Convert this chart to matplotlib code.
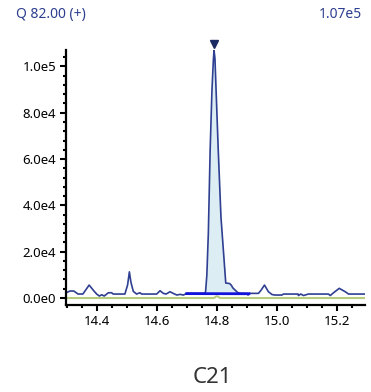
import matplotlib.pyplot as plt
import numpy as np
from matplotlib.ticker import MultipleLocator, FuncFormatter

# Chromatogram trace (retention time in min, intensity)
rt = [14.297, 14.310, 14.323, 14.337, 14.353, 14.374, 14.390, 14.399, 14.408, 14.416,
      14.424, 14.438, 14.449, 14.454, 14.493, 14.502, 14.508, 14.513, 14.521, 14.532,
      14.543, 14.549, 14.599, 14.610, 14.621, 14.630, 14.638, 14.643, 14.654, 14.666,
      14.677, 14.688, 14.699, 14.760, 14.762, 14.766, 14.771, 14.777, 14.783, 14.788,
      14.790, 14.793, 14.798, 14.804, 14.813, 14.821, 14.829, 14.838, 14.842, 14.847,
      14.853, 14.860, 14.868, 14.877, 14.902, 14.903, 14.907, 14.938, 14.947, 14.958,
      14.971, 14.983, 14.993, 15.016, 15.021, 15.070, 15.071, 15.079, 15.088, 15.104,
      15.171, 15.177, 15.188, 15.207, 15.227, 15.238, 15.293]
intensity = [2280, 3020, 3020, 1720, 1720, 5600, 3020, 1720, 860, 1420,
             860, 2280, 2280, 1720, 1720, 5600, 11300, 6900, 2890, 1720,
             2280, 1720, 1720, 3150, 2010, 1720, 2280, 2720, 2010, 1290,
             1590, 1290, 2010, 2010, 3020, 9910, 28000, 63800, 89600, 103400,
             106900, 103400, 85300, 63800, 35000, 20700, 6470, 6330, 6250, 5600,
             4310, 3450, 2450, 2010, 1940, 1290, 2010, 2010, 3450, 5600,
             2720, 1510, 1290, 1290, 1720, 1720, 1080, 1720, 1080, 1720,
             1720, 1080, 2280, 4180, 2720, 1720, 1720]

# second (reference) trace, flat with a tiny bump
rt2 = [14.297, 14.790, 14.797, 14.802, 14.810, 15.293]
intensity2 = [0, 0, 700, 700, 0, 0]

# integration baseline
base_x = [14.699, 14.906]
base_y = [1900, 1850]

apex_rt = 14.790
apex_int = 109500

fig = plt.figure(figsize=(3.71, 3.92), dpi=100)
ax = fig.add_axes([0.178, 0.222, 0.806, 0.650])

rt_a = np.array(rt)
int_a = np.array(intensity)
bl = np.interp(rt_a, base_x, base_y)
mask = (rt_a >= base_x[0]) & (rt_a <= base_x[1])
ax.fill_between(rt_a, bl, int_a, where=mask & (int_a > bl), interpolate=True,
                color='#dcedf4', lw=0)

ax.plot(rt2, intensity2, color='#b5cc7c', lw=1.5)
ax.plot(rt, intensity, color='#2f3f91', lw=1.2)
ax.plot(base_x, base_y, color='#1212dd', lw=2)
ax.plot(apex_rt, apex_int, marker='v', color='#1b2a60', ms=6, clip_on=False)

ax.set_xlim(14.297, 15.293)
ax.set_ylim(-3000, 107000)

ax.xaxis.set_major_locator(MultipleLocator(0.2))
ax.xaxis.set_minor_locator(MultipleLocator(0.05))
ax.yaxis.set_major_locator(MultipleLocator(20000))
ax.yaxis.set_minor_locator(MultipleLocator(4000))
ax.xaxis.set_major_formatter(FuncFormatter(lambda v, p: f'{v:.1f}'))


def sci(v, p):
    if abs(v) < 1e-9:
        return '0.0e0'
    e = int(np.floor(np.log10(abs(v))))
    return f'{v / 10**e:.1f}e{e}'


ax.yaxis.set_major_formatter(FuncFormatter(sci))

for s in ['top', 'right']:
    ax.spines[s].set_visible(False)
for s in ['left', 'bottom']:
    ax.spines[s].set_linewidth(1.6)
    ax.spines[s].set_color('black')

ax.tick_params(which='major', direction='out', length=4, width=1.5,
               labelsize=9.5, colors='black', pad=3)
ax.tick_params(which='minor', direction='out', length=2, width=1.5)
for lab in ax.get_xticklabels() + ax.get_yticklabels():
    lab.set_family('Noto Sans')

fig.text(0.043, 0.962, 'Q 82.00 (+)', color='#2e3f8f', fontsize=10,
         family='Noto Sans', ha='left', va='center')
fig.text(0.976, 0.962, '1.07e5', color='#2e3f8f', fontsize=10,
         family='Noto Sans', ha='right', va='center')
fig.text(0.572, 0.038, 'C21', color='#333333', fontsize=16,
         family='Noto Sans', ha='center', va='center')

fig.savefig('out.png', dpi=100)
